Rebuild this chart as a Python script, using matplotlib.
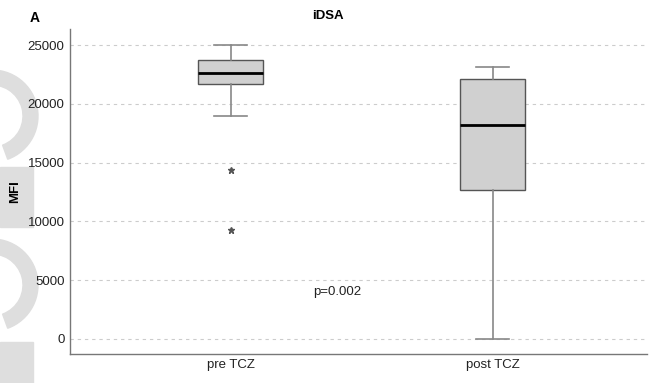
import matplotlib
matplotlib.use("Agg")
import matplotlib.pyplot as plt
import matplotlib.patches as mpatches
import matplotlib.transforms as mtransforms

plt.rcParams["font.family"] = ["Liberation Sans", "DejaVu Sans"]

# box summary values
groups = ["pre TCZ", "post TCZ"]
medians = [22600, 18200]
q1s = [21700, 12700]
q3s = [23700, 22100]
whis_lo = [19000, 0]
whis_hi = [25000, 23100]
outliers = [[14400, 9300], []]
y_ticks = [0, 5000, 10000, 15000, 20000, 25000]

stats = []
for i, name in enumerate(groups):
    stats.append({
        "label": name,
        "med": medians[i],
        "q1": q1s[i],
        "q3": q3s[i],
        "whislo": whis_lo[i],
        "whishi": whis_hi[i],
        "fliers": outliers[i],
    })

fig = plt.figure(figsize=(6.49, 3.83), dpi=100)

# faint watermark shapes on the left edge (display pixels)
pix = mtransforms.IdentityTransform()
wm = "#dedede"
for top in (68, 237):
    fig.patches.append(mpatches.Wedge((-8, 383 - top - 48), 46, -70, 100, width=15,
                                      transform=pix, color=wm, zorder=-5))
fig.patches.append(mpatches.Rectangle((0, 383 - 227), 33, 60, transform=pix, color=wm, zorder=-5))
fig.patches.append(mpatches.Rectangle((0, 0), 33, 383 - 342, transform=pix, color=wm, zorder=-5))

ax = fig.add_axes([0.108, 0.076, 0.889, 0.848])
ax.patch.set_alpha(0)

ax.bxp(
    stats,
    positions=[1, 2],
    widths=0.25,
    patch_artist=True,
    boxprops={"facecolor": "#d0d0d0", "edgecolor": "#555555", "linewidth": 1.0},
    medianprops={"color": "black", "linewidth": 2.0},
    whiskerprops={"color": "#888888", "linewidth": 1.2},
    capprops={"color": "#888888", "linewidth": 1.2},
    capwidths=0.125,
    flierprops={"marker": "*", "markersize": 4.5, "markerfacecolor": "#555555",
                "markeredgecolor": "#555555"},
)

ax.set_xlim(0.387, 2.589)
ax.set_ylim(-1275, 26360)
ax.set_yticks(y_ticks)
ax.set_yticklabels([str(v) for v in y_ticks], fontsize=9.5, color="#222222")
ax.set_xticklabels(groups, fontsize=9.5, color="#222222")
ax.tick_params(length=0, pad=4)
ax.yaxis.grid(True, linestyle=(0, (3, 3.5)), color="#cccccc", linewidth=0.8)
ax.set_axisbelow(True)

for side in ("top", "right"):
    ax.spines[side].set_visible(False)
for side in ("left", "bottom"):
    ax.spines[side].set_color("#777777")
    ax.spines[side].set_linewidth(1.0)

ax.set_ylabel("MFI", fontsize=9.5, fontweight="bold", va="center")
ax.yaxis.set_label_coords(-0.095, 0.5)
ax.set_title("iDSA", fontsize=9.5, fontweight="bold", x=0.447, pad=7)
ax.text(1.313, 3960, "p=0.002", fontsize=9.5, ha="left", va="center", color="#222222")
fig.text(35 / 649, 1 - 18 / 383, "A", fontsize=10, fontweight="bold", ha="center", va="center")

fig.savefig("out.png", dpi=100)
